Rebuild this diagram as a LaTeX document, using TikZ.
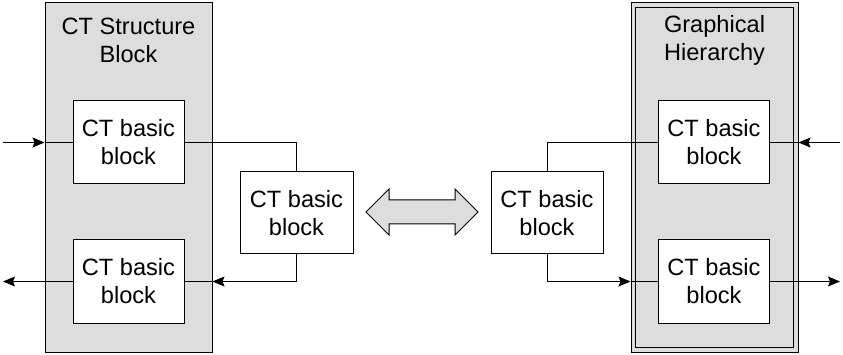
\documentclass[tikz,border=0pt]{standalone}
\usepackage{fontspec}
\setmainfont{Liberation Sans}
\usepackage{xcolor}
\usepackage{tikz}
\usetikzlibrary{arrows.meta,shapes.arrows}

\definecolor{boxgray}{RGB}{221,221,221}

\tikzset{
  container/.style={draw, fill=boxgray, line width=1pt, inner sep=0pt, minimum width=167pt, minimum height=349pt},
  basicblock/.style={draw, fill=white, line width=1pt, inner sep=0pt, minimum width=111pt, minimum height=83pt, align=center},
  title/.style={align=center},
  arr/.style={-{Stealth[length=12pt,width=10pt,inset=2pt]}},
}

\begin{document}
\begin{tikzpicture}[x=1pt, y=-1pt, line width=1pt, font=\fontsize{23.6}{28}\selectfont]
\useasboundingbox (0,0) rectangle (843,355);

% containers
\node[container] (csb) at (128.5,177.5) {};
\node[title] (csbtitle) at (128.5,40.5) {CT Structure\\Block};
\node[container] (gh) at (714.5,177.5) {};
\draw ([shift={(5,5)}]gh.north west) rectangle ([shift={(-5,-5)}]gh.south east);
\node[title] (ghtitle) at (714.5,40.5) {Graphical\\Hierarchy};

% basic blocks
\node[basicblock] (tl) at (128.5,142.5) {CT basic\\block};
\node[basicblock] (bl) at (128.5,281.5) {CT basic\\block};
\node[basicblock, minimum width=113pt, minimum height=82pt] (ml) at (296.5,213) {CT basic\\block};
\node[basicblock, minimum width=112pt, minimum height=82pt] (mr) at (547,213) {CT basic\\block};
\node[basicblock] (tr) at (714,142.5) {CT basic\\block};
\node[basicblock] (br) at (714,281.5) {CT basic\\block};

% exchange arrow
\node[double arrow, draw, fill=boxgray, line width=1pt, inner xsep=0pt, inner ysep=11.5pt,
      minimum height=112pt, double arrow head extend=11pt] (swap) at (422,212) {};

% left side
\coordinate (inL) at (3,142.5);
\coordinate (outL) at (3,281.5);
\draw[arr] (inL) -- (inL -| csb.west);
\draw (inL -| csb.west) -- (tl.west);
\draw[arr] (bl.west) -- (outL);
\draw (tl.east) -| (ml.north);
\draw[arr] (ml.south) |- (csb.east |- bl.east);
\draw (csb.east |- bl.east) -- (bl.east);

% right side
\coordinate (inR) at (840,142.5);
\coordinate (outR) at (840,281.5);
\draw[arr] (inR) -- (inR -| gh.east);
\draw (inR -| gh.east) -- (tr.east);
\draw[arr] (br.east) -- (outR);
\draw (mr.north) |- (tr.west);
\draw[arr] (mr.south) |- (gh.west |- br.west);
\draw (gh.west |- br.west) -- (br.west);
\end{tikzpicture}
\end{document}
